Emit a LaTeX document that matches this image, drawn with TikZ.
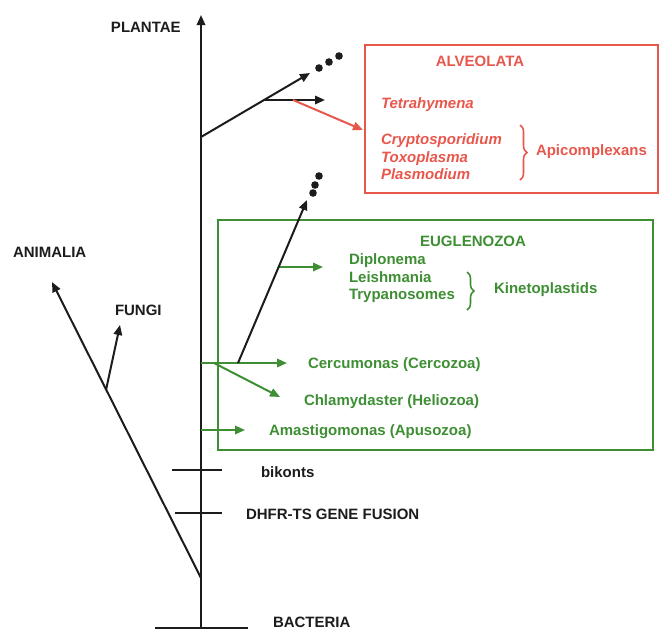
\documentclass[tikz,border=0pt]{standalone}
\usepackage{fontspec}
\setmainfont{Liberation Sans}
\usetikzlibrary{arrows.meta,positioning,decorations.pathreplacing}
\definecolor{ink}{HTML}{1C1C1C}
\definecolor{alv}{HTML}{E8574C}
\definecolor{eug}{HTML}{3E8E34}

\begin{document}
\begin{tikzpicture}[x=0.5pt,y=-0.5pt,line width=1pt,ink,
  lbl/.style={font=\fontsize{7.5}{9}\selectfont\bfseries,inner sep=0pt,anchor=base west},
  branch/.style={-{Triangle[length=5pt,width=4.2pt]}},
  leafdot/.style={fill=ink,radius=1.9pt},
  curly/.style={decorate,decoration={brace,amplitude=3.5pt}}]
\useasboundingbox (0,0) rectangle (660,629);
% trunk and outgroups
\coordinate (root) at (201,628);\coordinate (apex) at (201,15);
\coordinate (barL) at (155,628);\coordinate (barR) at (248,628);
\coordinate (animb) at (201,578);\coordinate (animtip) at (52,282);
\coordinate (fungb) at (106,390);\coordinate (fungtip) at (120,325);
\coordinate (bikL) at (172,470);\coordinate (bikR) at (222,470);
\coordinate (dhfrL) at (175,513);\coordinate (dhfrR) at (222,513);
\draw[branch] (root)--(apex);
\draw (barL)--(barR);
\draw[branch] (animb)--(animtip);
\draw[branch] (fungb)--(fungtip);
\draw (bikL)--(bikR);\draw (dhfrL)--(dhfrR);
\node[lbl] (plantae) at (110,32){PLANTAE};
\node[lbl] (animalia) at (12,257){ANIMALIA};
\node[lbl] (fungi) at (114,315){FUNGI};
\node[lbl] (bikonts) at (260,477){bikonts};
\node[lbl] (dhfr) at (245,519){DHFR-TS GENE FUSION};
\node[lbl] (bacteria) at (272,627){BACTERIA};
% alveolata
\draw[alv] (365,45) rectangle (658,193);
\coordinate (alvb) at (201,137);\coordinate (alvtip) at (310,73);
\coordinate (alvfork) at (263,100);\coordinate (tetratip) at (325,100);
\coordinate (alvred) at (293,100);\coordinate (alvin) at (363,130);
\draw[branch] (alvb)--(alvtip);
\draw[branch] (alvfork)--(tetratip);
\draw[branch,alv] (alvred)--(alvin);
\fill[leafdot] (319,68) circle;\fill[leafdot] (329,62) circle;\fill[leafdot] (339,56) circle;
\node[lbl,alv,anchor=center] (alvtitle) at (480,61){ALVEOLATA};
\node[lbl,alv] (tetra) at (380,108){\itshape Tetrahymena};
\node[lbl,alv] (crypto) at (380,144){\itshape Cryptosporidium};
\node[lbl,alv] (toxo) at (380,162){\itshape Toxoplasma};
\node[lbl,alv] (plasmo) at (380,179){\itshape Plasmodium};
\draw[alv,curly,line width=0.8pt] (520,125)--(520,180);
\node[lbl,alv] (apico) at (535,155){Apicomplexans};
% euglenozoa and other bikonts
\draw[eug] (218,220) rectangle (653,450);
\coordinate (cercb) at (201,363);\coordinate (cerctip) at (287,363);
\coordinate (chlb) at (214,363);\coordinate (chltip) at (280,397);
\coordinate (diplb) at (279,267);\coordinate (dipltip) at (323,267);
\coordinate (amab) at (201,430);\coordinate (amatip) at (245,430);
\coordinate (eugfork) at (238,363);\coordinate (eugtip) at (307,200);
\draw[branch,eug] (cercb)--(cerctip);
\draw[branch,eug] (chlb)--(chltip);
\draw[branch,eug] (diplb)--(dipltip);
\draw[branch,eug] (amab)--(amatip);
\draw[branch] (eugfork)--(eugtip);
\fill[leafdot] (313,193) circle;\fill[leafdot] (315,185) circle;\fill[leafdot] (319,176) circle;
\node[lbl,eug,anchor=center] (eugtitle) at (473,241){EUGLENOZOA};
\node[lbl,eug] (diplo) at (348,264){Diplonema};
\node[lbl,eug] (leish) at (348,282){Leishmania};
\node[lbl,eug] (trypa) at (348,299){Trypanosomes};
\draw[eug,curly,line width=0.8pt] (467,272)--(467,310);
\node[lbl,eug] (kineto) at (493,293){Kinetoplastids};
\node[lbl,eug] (cercu) at (307,368){Cercumonas (Cercozoa)};
\node[lbl,eug] (chlamy) at (303,405){Chlamydaster (Heliozoa)};
\node[lbl,eug] (amasti) at (268,435){Amastigomonas (Apusozoa)};
\end{tikzpicture}
\end{document}
